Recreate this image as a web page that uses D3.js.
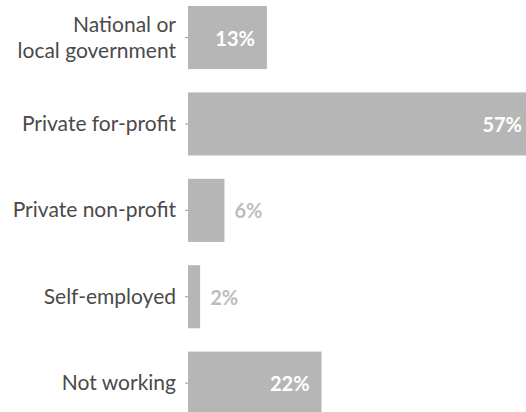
<!DOCTYPE html>
<html>
<head>
<meta charset="utf-8">
<script src="https://cdn.jsdelivr.net/npm/d3@7"></script>
<style>
  html, body { margin: 0; padding: 0; background: #fff; overflow: hidden; }
  svg { display: block; font-family: Lato, "Open Sans", sans-serif; }
</style>
</head>
<body>
<svg id="chart" width="526" height="412"></svg>
<script>
// Employment sector shares (percent)
const categories = [
  "National or\nlocal government",
  "Private for-profit",
  "Private non-profit",
  "Self-employed",
  "Not working"
];
const values = [13, 57, 6, 2, 22];
const valueLabels = ["13%", "57%", "6%", "2%", "22%"];

const data = categories.map((c, i) => ({ cat: c, value: values[i], label: valueLabels[i] }));

const width = 526, height = 412;
const margin = { left: 188 };

const svg = d3.select("#chart");

const x = d3.scaleLinear()
  .domain([0, 57])
  .range([margin.left, 534]);

const y = d3.scaleBand()
  .domain(categories)
  .range([0, 420.7])
  .paddingInner(0.27)
  .paddingOuter(0.0694);

// Category axis: short ticks, no domain line
const yAxis = d3.axisLeft(y).tickSize(3).tickPadding(10).tickFormat(() => "");
const axisG = svg.append("g")
  .attr("transform", `translate(${margin.left},0)`)
  .call(yAxis);
axisG.select(".domain").remove();
axisG.selectAll(".tick line").attr("stroke", "#9a9a9a");

// Category labels (multi-line where needed)
const lineH = 26;
const labels = svg.append("g").selectAll("text")
  .data(data)
  .join("text")
  .attr("x", margin.left - 12)
  .attr("y", d => y(d.cat) + y.bandwidth() / 2)
  .attr("text-anchor", "end")
  .attr("fill", "#4a4a4a")
  .attr("font-size", 21);
labels.each(function (d) {
  const lines = d.cat.split("\n");
  const t = d3.select(this);
  lines.forEach((ln, i) => {
    t.append("tspan")
      .attr("x", margin.left - 12)
      .attr("dy", i === 0 ? ((-(lines.length - 1) / 2) * lineH + 7) : lineH)
      .text(ln);
  });
});

// Bars
svg.append("g").selectAll("rect")
  .data(data)
  .join("rect")
  .attr("x", x(0))
  .attr("y", d => y(d.cat))
  .attr("width", d => x(d.value) - x(0))
  .attr("height", y.bandwidth())
  .attr("fill", "#b6b6b7");

// Value labels: inside (white) for wide bars, outside (light gray) for narrow ones
const insideMin = 10;
svg.append("g").selectAll("text")
  .data(data)
  .join("text")
  .attr("x", d => d.value >= insideMin ? x(d.value) - 12 : x(d.value) + 10)
  .attr("y", d => y(d.cat) + y.bandwidth() / 2 + 8)
  .attr("text-anchor", d => d.value >= insideMin ? "end" : "start")
  .attr("fill", d => d.value >= insideMin ? "#ffffff" : "#bdbdbd")
  .attr("font-size", 20)
  .attr("font-weight", "bold")
  .text(d => d.label);
</script>
</body>
</html>
